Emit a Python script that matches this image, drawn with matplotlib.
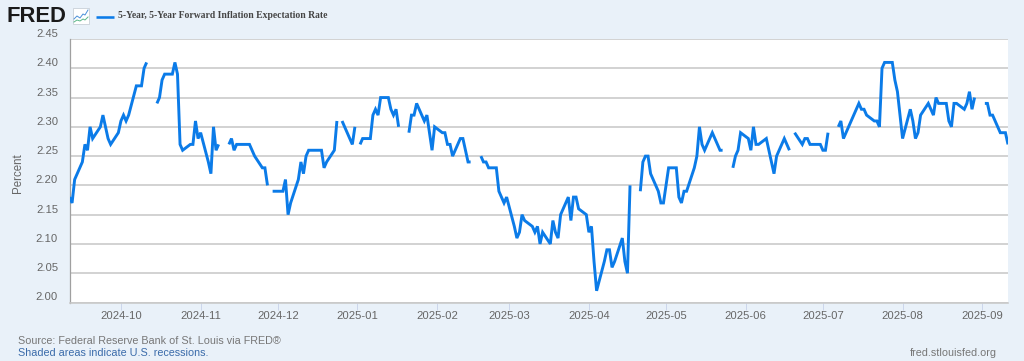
import numpy as np
import pandas as pd
import matplotlib
matplotlib.use("Agg")
import matplotlib.pyplot as plt
from matplotlib.lines import Line2D
from matplotlib.patches import Rectangle

N = None
sep24 = [2.18,2.17,2.21,2.24,2.27,2.26,2.30,2.28,2.30,2.32,2.30,2.28,2.27,2.29]
oct24 = [2.31,2.32,2.31,2.32,2.37,2.37,2.37,2.40,2.41,N,2.34,2.35,2.38,2.39,2.39,2.41,2.39,2.27,2.26,2.27,2.27,2.31,2.28]
nov24 = [2.29,2.24,2.22,2.30,2.26,2.27,N,2.27,2.28,2.26,2.27,2.27,2.27,2.27,2.26,2.25,2.23,2.23,2.20,N,2.19]
dec24 = [2.19,2.19,2.21,2.15,2.17,2.21,2.24,2.22,2.25,2.26,2.26,2.26,2.26,2.23,2.24,2.26,2.31,N,2.31,2.30,2.27,2.30]
jan25 = [N,2.27,2.28,2.28,2.32,2.33,2.32,2.35,2.35,2.33,2.32,2.33,2.30,N,2.29,2.32,2.32,2.34,2.31,2.32,2.29,2.26,2.30]
feb25 = [2.29,2.29,2.27,2.27,2.25,2.28,2.28,2.26,2.24,2.24,N,2.25,2.24,2.24,2.23,2.23,2.19,2.18,2.17,2.18]
mar25 = [2.13,2.11,2.12,2.15,2.14,2.13,2.12,2.13,2.10,2.12,2.10,2.14,2.12,2.11,2.15,2.18,2.14,2.18,2.18,2.16,2.15]
apr25 = [2.12,2.13,2.07,2.02,2.07,2.09,2.09,2.06,2.07,2.11,2.07,2.05,2.20,N,2.19,2.24,2.25,2.25,2.22,2.19,2.17,2.17]
may25 = [2.20,2.23,2.23,2.18,2.17,2.19,2.19,2.23,2.25,2.30,2.27,2.26,2.29,2.28,2.27,2.26,2.26,N,2.23,2.25,2.26,2.29]
jun25 = [2.28,2.26,2.30,2.27,2.27,2.28,2.26,2.24,2.22,2.25,2.28,2.27,2.26,N,2.29,2.27,2.28,2.28,2.27,2.27,2.27]
jul25 = [2.26,2.26,2.29,N,2.30,2.31,2.28,2.29,2.30,2.33,2.34,2.33,2.33,2.32,2.31,2.31,2.30,2.40,2.41,2.41,2.38,2.36,2.32]
aug25 = [2.28,2.33,2.31,2.28,2.29,2.32,2.34,2.33,2.32,2.35,2.34,2.34,2.31,2.30,2.34,2.34,2.33,2.34,2.36,2.33,2.35]
sep25 = [N,2.34,2.34,2.32,2.32,2.29,2.29,2.29,2.27]

values = sep24 + oct24 + nov24 + dec24 + jan25 + feb25 + mar25 + apr25 + may25 + jun25 + jul25 + aug25 + sep25
dates = pd.bdate_range("2024-09-11", "2025-09-11")
assert len(values) == len(dates), (len(values), len(dates))
series = np.array([np.nan if v is None else v for v in values], dtype=float)

y_ticks = [2.00, 2.05, 2.10, 2.15, 2.20, 2.25, 2.30, 2.35, 2.40, 2.45]
x_ticks = pd.date_range("2024-10-01", "2025-09-01", freq="MS")
title = "5-Year, 5-Year Forward Inflation Expectation Rate"

W, H = 1024, 361
BG = "#E9F1F9"
BLUE = "#0B7BE8"
plt.rcParams["font.family"] = ["Liberation Sans", "DejaVu Sans"]
fig = plt.figure(figsize=(W / 100, H / 100), dpi=100, facecolor=BG)
L, R, T, B = 69.5, 1008, 39, 302.5
ax = fig.add_axes([L / W, 1 - B / H, (R - L) / W, (B - T) / H], facecolor="white")
ax.plot(dates, series, color=BLUE, lw=2.1, solid_joinstyle="miter", solid_capstyle="butt", zorder=3)
ax.set_xlim(pd.Timestamp("2024-09-11"), pd.Timestamp("2025-09-11"))
ax.set_ylim(2.00, 2.45)
ax.set_yticks(y_ticks)
ax.set_yticklabels([f"{v:.2f}" for v in y_ticks], color="#666666", fontsize=8.1, va="bottom")
ax.tick_params(axis="y", length=0, pad=8.2)
for lab in ax.get_yticklabels():
    lab.set_ha("right")
ax.set_xticks(x_ticks)
ax.set_xticklabels([d.strftime("%Y-%m") for d in x_ticks], color="#666666", fontsize=8.1)
ax.tick_params(axis="x", length=5, width=0.7, color="#CCD6EB", pad=1.2)
ax.grid(axis="y", color="#C8C8C8", lw=1.15, zorder=1)
ax.set_axisbelow(True)
for s in ("top", "right"):
    ax.spines[s].set_visible(False)
ax.spines["left"].set_color("#A0A0A0")
ax.spines["left"].set_linewidth(0.9)
ax.spines["bottom"].set_color("#C8C8C8")
ax.spines["bottom"].set_linewidth(1.15)

def fx(px): return px / W
def fy(py): return 1 - py / H

fig.text(fx(17.5), fy(173), "Percent", rotation=90, ha="center", va="center", color="#666666", fontsize=8.3)
fig.text(fx(7), fy(16.5), "FRED", ha="left", va="center", color="#1a1a1a", fontsize=15.8, fontweight="bold")
fig.text(fx(118), fy(16), title, ha="left", va="center", color="#444444",
         fontsize=6.95, fontweight="bold", family=["Liberation Serif"])
fig.add_artist(Line2D([fx(96), fx(114)], [fy(16.5)] * 2, color=BLUE, lw=1.85, solid_capstyle="butt"))
fig.add_artist(Rectangle((fx(73), fy(24)), 16 / W, 16 / H, transform=fig.transFigure,
                         facecolor="white", edgecolor="#C8D0D8", lw=0.6))
fig.add_artist(Line2D([fx(p) for p in (74, 77, 80, 83, 85, 88)], [fy(p) for p in (19, 16, 18, 14, 15, 10)],
                      color="#4A90D9", lw=0.7))
fig.add_artist(Line2D([fx(p) for p in (74, 77, 80, 83, 85, 88)], [fy(p) for p in (22, 20, 21, 19, 20, 17)],
                      color="#5CB88A", lw=0.7))
fig.text(fx(18), fy(341), "Source: Federal Reserve Bank of St. Louis via FRED®", ha="left", va="center",
         color="#777777", fontsize=7.75)
fig.text(fx(18), fy(353), "Shaded areas indicate U.S. recessions.", ha="left", va="center",
         color="#3A6BAA", fontsize=7.75)
fig.text(fx(997), fy(353), "fred.stlouisfed.org", ha="right", va="center", color="#777777", fontsize=7.75)

fig.savefig("out.png", dpi=100, facecolor=BG)
